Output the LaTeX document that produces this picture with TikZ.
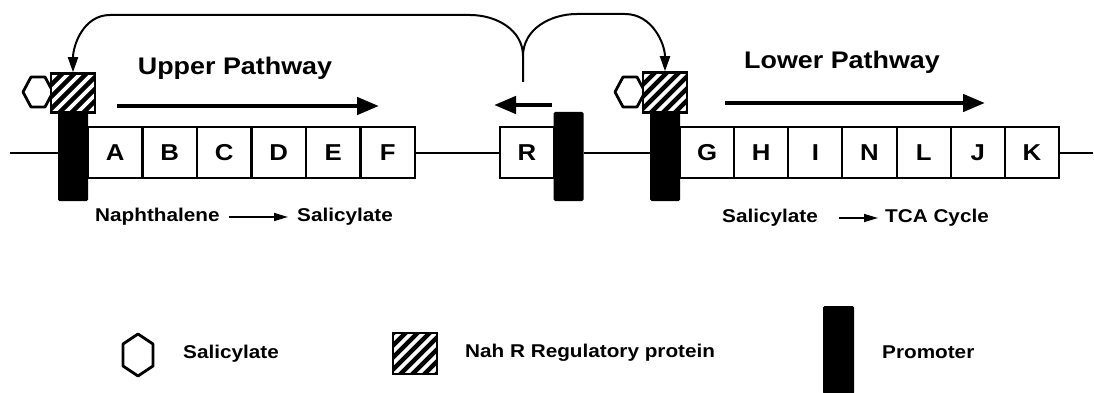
\documentclass[tikz,border=0pt]{standalone}
\usepackage{fontspec}
\setmainfont{Liberation Sans}[FakeStretch=1.12]
\usetikzlibrary{arrows.meta,calc}
\tikzset{
  gene/.style={draw, line width=2pt, fill=white, minimum width=54.3pt, minimum height=50pt,
    inner sep=0pt, font=\fontsize{23}{23}\selectfont\bfseries},
  promoter/.style={fill=black, minimum width=30pt, minimum height=89pt, inner sep=0pt,
    rounded corners=1.5pt},
  nahr/.style={draw, line width=2.5pt, fill=black, minimum width=44pt, minimum height=39pt,
    inner sep=0pt,
    path picture={\foreach \k in {-6,...,6}{\draw[white, line width=3.8pt]
      ($(path picture bounding box.center)+(\k*12pt-30pt,-30pt)$) -- ++(60pt,60pt);}}},
  hexh/.pic={\draw[line width=2.8pt, fill=white, line join=round]
    (-15,0) -- (-7,-15) -- (7,-15) -- (15,0) -- (7,15) -- (-7,15) -- cycle;},
  hexv/.pic={\draw[line width=2.8pt, fill=white, line join=round]
    (0,-21) -- (15,-11) -- (15,11) -- (0,21) -- (-15,11) -- (-15,-11) -- cycle;},
  titletext/.style={inner sep=0pt, font=\fontsize{24}{24}\selectfont\bfseries},
  captext/.style={inner sep=0pt, anchor=west, font=\fontsize{18.5}{18.5}\selectfont\bfseries},
  dnaline/.style={line width=2pt},
  bigarrow/.style={line width=4.5pt, -{Triangle[length=22pt,width=17pt]}},
  smallarrow/.style={line width=1.6pt, -{Triangle[length=14pt,width=8pt]}},
  conn/.style={line width=2pt, -{Triangle[length=15pt,width=10pt]}},
}
\begin{document}
\begin{tikzpicture}[x=1pt,y=-1pt]
\fill[white] (0,0) rectangle (1094,393);
\useasboundingbox (0,0) rectangle (1094,393);

% ---- left operon ----
\pic (S1) at (38,92) {hexh};
\node[nahr] (H1) at (73,93) {};
\node[promoter] (P1) at (73,156.5) {};
\foreach \l [count=\i from 0] in {A,B,C,D,E,F}
  \node[gene] (g\l) at ({88+54.5*\i+27.25},152.5) {\l};

% ---- R gene ----
\node[gene, minimum width=54pt] (gR) at (527,152.5) {R};
\node[promoter] (P2) at (568.5,156.5) {};

% ---- right operon ----
\pic (S2) at (630,92) {hexh};
\node[nahr, minimum height=40pt] (H2) at (665,92.5) {};
\node[promoter] (P3) at (665,156.5) {};
\foreach \l [count=\i from 0] in {G,H,I,N,L,J,K}
  \node[gene] (g\l) at ({680+54.15*\i+27.07},152.5) {\l};

% ---- DNA line ----
\coordinate (L0) at (10,153);
\coordinate (R0) at (1093,153);
\draw[dnaline] (L0) -- (L0 -| P1.west);
\draw[dnaline] (gF.east |- L0) -- (gR.west |- L0);
\draw[dnaline] (P2.east |- L0) -- (P3.west |- L0);
\draw[dnaline] (gK.east |- L0) -- (R0);

% ---- pathway arrows and titles ----
\node[titletext] (tu) at (235,68) {Upper Pathway};
\node[titletext] (tl) at (842,62) {Lower Pathway};
\coordinate (ua1) at (117,106); \coordinate (ua2) at (379,106);
\draw[bigarrow] (ua1) -- (ua2);
\coordinate (la1) at (725,103); \coordinate (la2) at (985,103);
\draw[bigarrow] (la1) -- (la2);
\coordinate (ra1) at (552,105); \coordinate (ra2) at (494,105);
\draw[bigarrow] (ra1) -- (ra2);

% ---- regulatory connectors ----
\coordinate (J) at (523,82);
\coordinate (Jt) at (523,56);
\draw[conn] (J) -- (Jt) to[out=90,in=0] (470,15) -- (110,15) to[out=180,in=90] (H1.north);
\draw[conn] (Jt) to[out=90,in=180] (577,14) -- (625,14) to[out=0,in=90] (H2.north);

% ---- captions ----
\node[captext] (c1) at (95,217) {Naphthalene};
\node[captext] (c2) at (297,217) {Salicylate};
\draw[smallarrow] ([xshift=9pt]c1.east) -- ([xshift=-9pt]c2.west);
\node[captext] (c3) at (722,218) {Salicylate};
\node[captext] (c4) at (885,218) {TCA Cycle};
\draw[smallarrow] ([xshift=21pt]c3.east) -- ([xshift=-7pt]c4.west);

% ---- legend ----
\pic (K1) at (138,355) {hexv};
\node[captext] (k1) at (183,354) {Salicylate};
\node[nahr, minimum height=41pt] (K2) at (415,353.5) {};
\node[captext] (k2) at (465,353) {Nah R Regulatory protein};
\node[promoter, minimum width=31pt, minimum height=88pt] (K3) at (838.5,350) {};
\node[captext] (k3) at (882,352) {Promoter};
\end{tikzpicture}
\end{document}
